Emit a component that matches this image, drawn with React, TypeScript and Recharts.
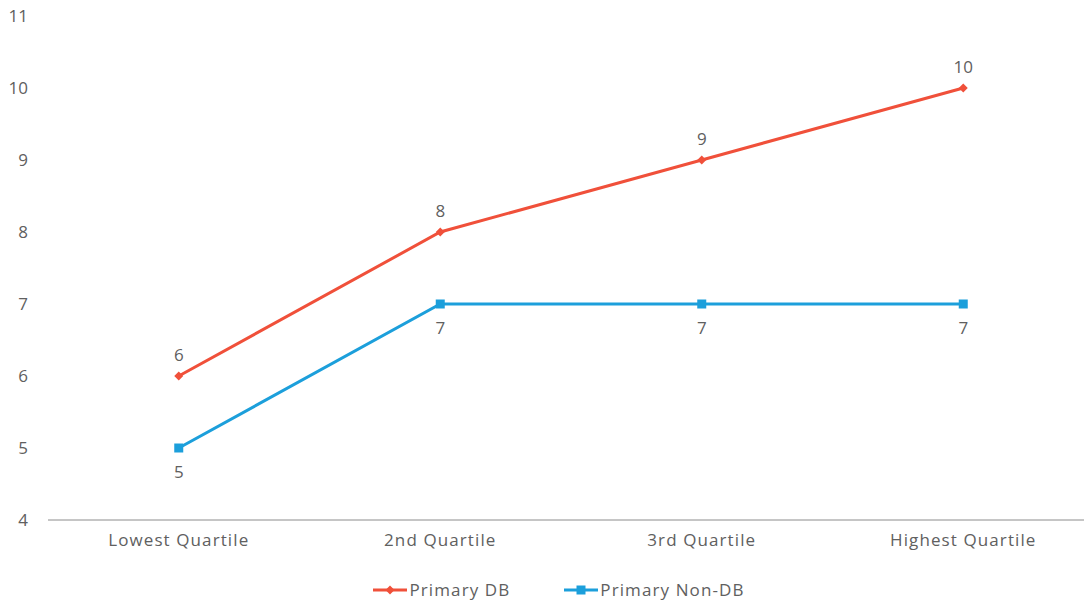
import { LineChart, Line, XAxis, YAxis, Legend, LabelList } from "recharts";

const quartiles = ["Lowest Quartile", "2nd Quartile", "3rd Quartile", "Highest Quartile"];
const primaryDb = [6, 8, 9, 10];
const primaryNonDb = [5, 7, 7, 7];
const yTicks = [4, 5, 6, 7, 8, 9, 10, 11];

const RED = "#F0503A";
const BLUE = "#1C9FDB";
const TEXT = "#606060";
const FONT = "'Open Sans', 'DejaVu Sans', sans-serif";
const FS = 17;
const LS = 1.1;

const data = quartiles.map((q, i) => ({
  quartile: q,
  db: primaryDb[i],
  nonDb: primaryNonDb[i],
}));

function Diamond(props: any) {
  const { cx, cy } = props;
  if (cx == null || cy == null) return null;
  const r = 4.5;
  return (
    <polygon
      points={`${cx},${cy - r} ${cx + r},${cy} ${cx},${cy + r} ${cx - r},${cy}`}
      fill={RED}
    />
  );
}

function Square(props: any) {
  const { cx, cy } = props;
  if (cx == null || cy == null) return null;
  return <rect x={cx - 4.5} y={cy - 4.5} width={9} height={9} fill={BLUE} />;
}

function LegendBox() {
  const item = (color: string, label: string, square: boolean) => (
    <div style={{ display: "flex", alignItems: "center", margin: "0 27px" }}>
      <svg width={34} height={12}>
        <line x1={0} y1={6} x2={34} y2={6} stroke={color} strokeWidth={3} />
        {square ? (
          <rect x={12.5} y={1.5} width={9} height={9} fill={color} />
        ) : (
          <polygon points="17,1.5 21.5,6 17,10.5 12.5,6" fill={color} />
        )}
      </svg>
      <span style={{ marginLeft: 2 }}>{label}</span>
    </div>
  );
  return (
    <div
      style={{
        display: "flex",
        justifyContent: "center",
        fontFamily: FONT,
        fontSize: FS,
        letterSpacing: LS,
        color: TEXT,
        paddingTop: 8,
        paddingLeft: 24,
      }}
    >
      {item(RED, "Primary DB", false)}
      {item(BLUE, "Primary Non-DB", true)}
    </div>
  );
}

export default function App() {
  return (
    <div
      style={{
        position: "absolute",
        left: 0,
        top: 0,
        width: 1084,
        height: 604,
        overflow: "hidden",
        background: "#fff",
      }}
    >
      <LineChart
        width={1100}
        height={604}
        data={data}
        margin={{ top: 16, right: 6, bottom: 0, left: 0 }}
        style={{ fontFamily: FONT }}
      >
        <XAxis
          dataKey="quartile"
          height={50}
          padding={{ left: 130.75, right: 130.75 }}
          tickLine={false}
          axisLine={{ stroke: "#8C8C8C", strokeWidth: 1 }}
          tick={{ fill: TEXT, fontSize: FS, letterSpacing: LS }}
          tickMargin={8}
        />
        <YAxis
          width={48}
          domain={[4, 11]}
          ticks={yTicks}
          interval={0}
          axisLine={false}
          tickLine={false}
          tick={{ fill: TEXT, fontSize: FS }}
          tickMargin={14}
        />
        <Legend verticalAlign="bottom" height={34} content={<LegendBox />} />
        <Line
          dataKey="db"
          name="Primary DB"
          stroke={RED}
          strokeWidth={3}
          dot={<Diamond />}
          activeDot={false}
          isAnimationActive={false}
        >
          <LabelList dataKey="db" position="top" offset={15} fill={TEXT} fontSize={FS} />
        </Line>
        <Line
          dataKey="nonDb"
          name="Primary Non-DB"
          stroke={BLUE}
          strokeWidth={3}
          dot={<Square />}
          activeDot={false}
          isAnimationActive={false}
        >
          <LabelList dataKey="nonDb" position="bottom" offset={18} fill={TEXT} fontSize={FS} />
        </Line>
      </LineChart>
    </div>
  );
}
